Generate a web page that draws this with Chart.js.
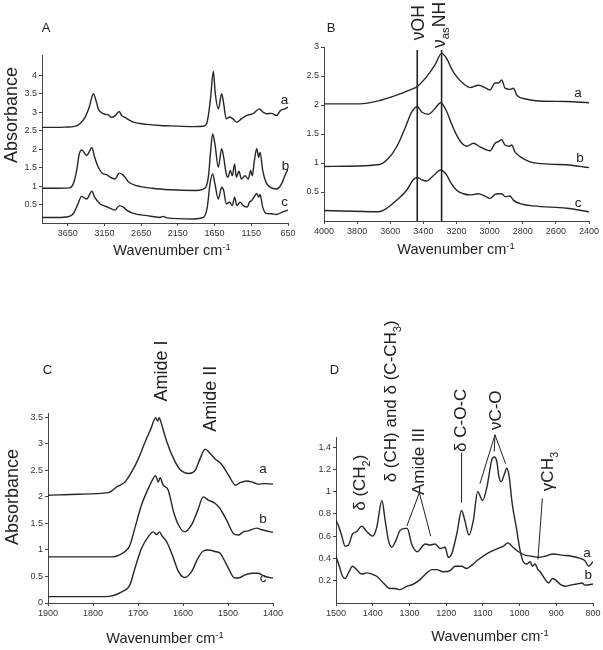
<!DOCTYPE html>
<html>
<head>
<meta charset="utf-8">
<script src="https://cdn.jsdelivr.net/npm/chart.js@4.4.1/dist/chart.umd.min.js"></script>
<style>
  body { margin: 0; background: #fff; }
  #wrap { position: relative; width: 603px; height: 650px; }
  canvas { position: absolute; }
</style>
</head>
<body>
<div id="wrap">
  <canvas id="chartA" width="301" height="300" style="left:0;top:0"></canvas>
  <canvas id="chartB" width="302" height="300" style="left:301px;top:0"></canvas>
  <canvas id="chartC" width="301" height="350" style="left:0;top:300px"></canvas>
  <canvas id="chartD" width="302" height="350" style="left:301px;top:300px"></canvas>
</div>
<script>
// ---- panel A: full range spectra ----
const A_a_wn = [4000, 3800, 3650, 3574, 3483, 3414, 3356, 3301, 3265, 3233, 3165, 3097, 3052, 3007, 2948, 2916, 2870, 2838, 2757, 2574, 2393, 2257, 1940, 1800, 1760, 1735, 1703, 1667, 1640, 1599, 1553, 1526, 1491, 1446, 1400, 1345, 1285, 1217, 1126, 1042, 988, 943, 874, 806, 751, 693, 650];
const A_a_abs = [2.59, 2.59, 2.60, 2.61, 2.69, 2.86, 3.14, 3.50, 3.32, 3.09, 2.96, 2.93, 2.86, 2.90, 3.02, 2.91, 2.86, 2.82, 2.73, 2.67, 2.64, 2.63, 2.61, 2.62, 2.68, 2.91, 3.41, 4.11, 3.50, 3.09, 3.50, 3.23, 2.82, 2.87, 2.82, 2.73, 2.82, 2.91, 2.96, 3.09, 3.00, 2.96, 2.97, 2.91, 3.05, 3.09, 3.14];
const A_b_wn = [4000, 3800, 3624, 3574, 3528, 3492, 3460, 3392, 3320, 3283, 3233, 3165, 3119, 3074, 3007, 2948, 2902, 2870, 2825, 2711, 2500, 2257, 1940, 1803, 1735, 1703, 1676, 1645, 1599, 1553, 1526, 1491, 1468, 1436, 1409, 1377, 1354, 1318, 1285, 1236, 1191, 1158, 1136, 1108, 1076, 1049, 1031, 994, 949, 895, 806, 738, 693, 650];
const A_b_abs = [0.94, 0.94, 0.95, 1.06, 1.42, 1.87, 1.98, 1.83, 2.04, 1.78, 1.51, 1.33, 1.31, 1.24, 1.19, 1.35, 1.31, 1.24, 1.12, 1.01, 0.94, 0.90, 0.88, 0.92, 1.24, 1.96, 2.41, 2.14, 1.51, 2.01, 1.78, 1.33, 1.24, 1.42, 1.28, 1.60, 1.24, 1.40, 1.19, 1.28, 1.19, 1.42, 1.28, 1.69, 2.01, 1.78, 1.92, 1.42, 1.10, 0.97, 0.92, 1.06, 1.28, 1.47];
const A_c_wn = [4000, 3800, 3642, 3574, 3519, 3460, 3392, 3320, 3283, 3210, 3119, 3052, 3007, 2948, 2893, 2848, 2757, 2574, 2393, 2350, 2300, 1940, 1803, 1749, 1712, 1676, 1645, 1599, 1553, 1526, 1491, 1446, 1409, 1377, 1345, 1304, 1259, 1204, 1177, 1145, 1113, 1076, 1049, 1031, 994, 949, 874, 806, 738, 650];
const A_c_abs = [0.15, 0.15, 0.17, 0.25, 0.47, 0.72, 0.65, 0.86, 0.70, 0.52, 0.44, 0.38, 0.35, 0.47, 0.43, 0.35, 0.26, 0.20, 0.15, 0.18, 0.14, 0.11, 0.15, 0.43, 1.06, 1.33, 1.06, 0.65, 0.97, 0.88, 0.52, 0.56, 0.47, 0.70, 0.47, 0.56, 0.47, 0.43, 0.56, 0.61, 0.70, 0.80, 0.70, 0.77, 0.43, 0.26, 0.25, 0.23, 0.29, 0.35];
const A_xticks = [3650, 3150, 2650, 2150, 1650, 1150, 650];
const A_yticks = [0.5, 1, 1.5, 2, 2.5, 3, 3.5, 4];

// ---- panel B: 4000-2400 region ----
const B_a_wn = [4000, 3783, 3672, 3561, 3481, 3437, 3380, 3330, 3290, 3259, 3229, 3199, 3159, 3118, 3068, 3028, 2998, 2967, 2947, 2927, 2907, 2877, 2857, 2836, 2776, 2696, 2535, 2400];
const B_a_abs = [2.02, 2.02, 2.07, 2.17, 2.26, 2.32, 2.49, 2.69, 2.89, 2.80, 2.62, 2.49, 2.37, 2.30, 2.34, 2.30, 2.26, 2.38, 2.38, 2.43, 2.29, 2.27, 2.29, 2.17, 2.10, 2.07, 2.06, 2.04];
const B_b_wn = [4000, 3672, 3621, 3561, 3511, 3470, 3437, 3410, 3370, 3330, 3296, 3263, 3229, 3199, 3168, 3138, 3098, 3058, 2998, 2967, 2947, 2927, 2907, 2877, 2867, 2847, 2816, 2756, 2635, 2535, 2400];
const B_b_abs = [0.94, 0.97, 1.05, 1.28, 1.60, 1.88, 1.97, 1.88, 1.84, 1.94, 2.04, 1.91, 1.67, 1.48, 1.34, 1.29, 1.34, 1.28, 1.21, 1.34, 1.37, 1.40, 1.31, 1.29, 1.31, 1.19, 1.11, 1.02, 0.98, 0.97, 0.92];
const B_c_wn = [4000, 3672, 3621, 3561, 3501, 3461, 3437, 3410, 3380, 3340, 3296, 3259, 3235, 3199, 3159, 3118, 3068, 3028, 2998, 2967, 2947, 2927, 2907, 2877, 2857, 2816, 2736, 2535, 2400];
const B_c_abs = [0.18, 0.16, 0.22, 0.36, 0.53, 0.71, 0.75, 0.71, 0.69, 0.78, 0.88, 0.79, 0.66, 0.53, 0.47, 0.45, 0.47, 0.43, 0.39, 0.46, 0.47, 0.47, 0.42, 0.43, 0.36, 0.30, 0.26, 0.22, 0.16];
const B_xticks = [4000, 3800, 3600, 3400, 3200, 3000, 2800, 2600, 2400];
const B_yticks = [0.5, 1, 1.5, 2, 2.5, 3];
const B_marks = [3437, 3290];   // vOH, vasNH

// ---- panel C: amide region ----
const C_a_wn = [1900, 1833, 1766, 1747, 1729, 1714, 1699, 1684, 1671, 1661, 1656, 1653, 1649, 1646, 1636, 1621, 1607, 1587, 1573, 1562, 1551, 1540, 1529, 1514, 1499, 1483, 1473, 1458, 1444, 1433, 1418, 1400];
const C_a_abs = [2.03, 2.05, 2.08, 2.19, 2.28, 2.47, 2.72, 3.04, 3.29, 3.49, 3.43, 3.49, 3.41, 3.32, 3.04, 2.72, 2.52, 2.44, 2.50, 2.72, 2.90, 2.82, 2.72, 2.61, 2.41, 2.22, 2.27, 2.30, 2.27, 2.24, 2.25, 2.24];
const C_b_wn = [1900, 1758, 1729, 1718, 1707, 1692, 1677, 1666, 1661, 1655, 1651, 1644, 1633, 1621, 1610, 1597, 1581, 1567, 1555, 1544, 1529, 1518, 1503, 1488, 1477, 1466, 1455, 1436, 1425, 1400];
const C_b_abs = [0.87, 0.87, 0.97, 1.09, 1.41, 1.85, 2.16, 2.35, 2.40, 2.28, 2.36, 2.22, 2.13, 1.72, 1.47, 1.34, 1.47, 1.75, 2.00, 1.94, 1.88, 1.78, 1.56, 1.31, 1.28, 1.34, 1.36, 1.41, 1.38, 1.33];
const C_c_wn = [1900, 1773, 1736, 1718, 1707, 1692, 1677, 1666, 1659, 1652, 1647, 1636, 1621, 1610, 1596, 1581, 1567, 1555, 1544, 1529, 1518, 1503, 1485, 1473, 1462, 1447, 1433, 1418, 1400];
const C_c_abs = [0.12, 0.12, 0.21, 0.34, 0.65, 1.03, 1.25, 1.34, 1.29, 1.34, 1.27, 1.15, 0.84, 0.59, 0.48, 0.59, 0.84, 0.98, 1.00, 0.97, 0.94, 0.72, 0.47, 0.48, 0.53, 0.56, 0.56, 0.50, 0.47];
const C_xticks = [1900, 1800, 1700, 1600, 1500, 1400];
const C_yticks = [0, 0.5, 1, 1.5, 2, 2.5, 3, 3.5];

// ---- panel D: fingerprint region ----
const D_a_wn = [1500, 1491, 1482, 1475, 1466, 1455, 1444, 1430, 1416, 1403, 1389, 1371, 1353, 1339, 1326, 1307, 1289, 1271, 1253, 1239, 1226, 1208, 1189, 1176, 1158, 1144, 1130, 1112, 1085, 1058, 1044, 1032, 1021, 1003, 985, 967, 949, 930, 908, 885, 858, 835, 822, 812, 800];
const D_a_abs = [0.42, 0.33, 0.24, 0.22, 0.27, 0.33, 0.30, 0.26, 0.27, 0.26, 0.24, 0.18, 0.13, 0.13, 0.12, 0.15, 0.17, 0.21, 0.27, 0.30, 0.30, 0.28, 0.29, 0.33, 0.33, 0.31, 0.34, 0.39, 0.45, 0.49, 0.51, 0.54, 0.51, 0.46, 0.43, 0.42, 0.41, 0.42, 0.44, 0.43, 0.42, 0.40, 0.38, 0.33, 0.37];
const D_b_wn = [1500, 1494, 1485, 1475, 1466, 1455, 1444, 1430, 1416, 1400, 1389, 1375, 1366, 1357, 1348, 1337, 1326, 1312, 1306, 1294, 1278, 1267, 1257, 1244, 1230, 1217, 1203, 1194, 1185, 1171, 1158, 1149, 1138, 1126, 1114, 1101, 1089, 1076, 1069, 1062, 1056, 1050, 1041, 1035, 1029, 1020, 1008, 999, 990, 981, 971, 965, 958, 950, 944, 930, 921, 910, 903, 890, 876, 862, 844, 830, 822, 800];
const D_b_abs = [0.74, 0.70, 0.61, 0.51, 0.52, 0.62, 0.64, 0.69, 0.64, 0.60, 0.68, 0.92, 0.74, 0.56, 0.50, 0.56, 0.65, 0.67, 0.67, 0.53, 0.46, 0.50, 0.53, 0.52, 0.53, 0.49, 0.50, 0.41, 0.44, 0.62, 0.83, 0.74, 0.61, 0.74, 1.00, 0.92, 1.04, 1.28, 1.31, 1.27, 1.13, 1.09, 1.16, 1.21, 1.15, 0.89, 0.66, 0.48, 0.37, 0.35, 0.37, 0.33, 0.35, 0.30, 0.28, 0.21, 0.18, 0.22, 0.21, 0.17, 0.15, 0.16, 0.17, 0.18, 0.16, 0.17];
const D_xticks = [1500, 1400, 1300, 1200, 1100, 1000, 900, 800];
const D_yticks = [0.2, 0.4, 0.6, 0.8, 1, 1.2, 1.4];

const FONT = "'Liberation Sans', Arial, sans-serif";
const INK = "#262626";
const AXIS = "#444";

function zip(wn, abs) {
  return wn.map((w, i) => ({ x: w, y: abs[i] }));
}

// text made of parts, some of them sub- or superscript
function drawRich(ctx, segs, cx, cy, size, rot) {
  const parts = segs.map(s => {
    const sz = (s.sub || s.sup) ? size * 0.65 : size;
    ctx.font = sz + "px " + FONT;
    return { t: s.t, sz: sz, w: ctx.measureText(s.t).width, dy: s.sub ? size * 0.28 : s.sup ? -size * 0.38 : 0 };
  });
  const total = parts.reduce((a, p) => a + p.w, 0);
  ctx.save();
  ctx.translate(cx, cy);
  if (rot) ctx.rotate(-Math.PI / 2);
  ctx.textBaseline = "alphabetic";
  ctx.textAlign = "left";
  let x = -total / 2;
  for (const p of parts) {
    ctx.font = p.sz + "px " + FONT;
    ctx.fillText(p.t, x, size * 0.36 + p.dy);
    x += p.w;
  }
  ctx.restore();
}

const decor = {
  id: "decor",
  afterDraw(chart, args, opts) {
    const ctx = chart.ctx;
    const xs = chart.scales.x, ys = chart.scales.y;
    ctx.save();
    ctx.fillStyle = "#222";
    ctx.strokeStyle = "#222";
    for (const l of opts.lines || []) {
      ctx.lineWidth = l.w || 1;
      ctx.beginPath();
      ctx.moveTo(xs.getPixelForValue(l.x1), ys.getPixelForValue(l.y1));
      ctx.lineTo(xs.getPixelForValue(l.x2), ys.getPixelForValue(l.y2));
      ctx.stroke();
    }
    for (const t of opts.labels || []) {
      const px = t.px ? t.px[0] : xs.getPixelForValue(t.x);
      const py = t.px ? t.px[1] : ys.getPixelForValue(t.y);
      drawRich(ctx, t.segs, px, py, t.size, t.rot);
    }
    ctx.restore();
  }
};

const wavenumberTitle = [{ t: "Wavenumber cm" }, { t: "-1", sup: true }];

function makePanel(id, cfg) {
  const lineSet = cfg.series.map(s => ({
    data: zip(s[0], s[1]),
    borderColor: INK,
    borderWidth: 1.4,
    pointRadius: 0,
    fill: false,
    cubicInterpolationMode: "monotone"
  }));
  return new Chart(document.getElementById(id), {
    type: "line",
    data: { datasets: lineSet },
    plugins: [decor],
    options: {
      responsive: false,
      animation: false,
      parsing: false,
      layout: { padding: cfg.pad },
      plugins: {
        legend: { display: false },
        tooltip: { enabled: false },
        decor: { lines: cfg.lines || [], labels: cfg.labels || [] }
      },
      scales: {
        x: {
          type: "linear",
          reverse: true,
          min: cfg.xmin,
          max: cfg.xmax,
          afterBuildTicks: ax => { ax.ticks = cfg.xticks.map(v => ({ value: v })); },
          afterFit: ax => { ax.height = 20; },
          grid: { display: true, drawOnChartArea: false, drawTicks: true, tickLength: 3, color: AXIS },
          border: { display: true, color: AXIS, width: 1 },
          ticks: { autoSkip: false, maxRotation: 0, padding: 2, color: "#333", font: { family: FONT, size: 9 }, callback: v => String(v) }
        },
        y: {
          type: "linear",
          min: 0,
          max: cfg.ymax,
          afterBuildTicks: ax => { ax.ticks = cfg.yticks.map(v => ({ value: v })); },
          afterFit: ax => { ax.width = cfg.yw; },
          grid: { display: true, drawOnChartArea: false, drawTicks: true, tickLength: 3, color: AXIS },
          border: { display: true, color: AXIS, width: 1 },
          ticks: { padding: 2, color: "#333", font: { family: FONT, size: 9 }, callback: v => String(v) }
        }
      }
    }
  });
}

window.addEventListener("load", () => {
  makePanel("chartA", {
    pad: { left: 12, right: 13, top: 55, bottom: 57 },
    yw: 30, xmin: 650, xmax: 4000, ymax: 4.55,
    xticks: A_xticks, yticks: A_yticks,
    series: [[A_a_wn, A_a_abs], [A_b_wn, A_b_abs], [A_c_wn, A_c_abs]],
    labels: [
      { px: [46, 27.5], segs: [{ t: "A" }], size: 13 },
      { px: [11, 115], segs: [{ t: "Absorbance" }], size: 18, rot: true },
      { px: [172, 250], segs: wavenumberTitle, size: 14.5 },
      { x: 697, y: 3.36, segs: [{ t: "a" }], size: 13.5 },
      { x: 684, y: 1.58, segs: [{ t: "b" }], size: 13.5 },
      { x: 697, y: 0.58, segs: [{ t: "c" }], size: 13.5 }
    ]
  });

  makePanel("chartB", {
    pad: { left: 3, right: 14, top: 47, bottom: 59 },
    yw: 20, xmin: 2400, xmax: 4000, ymax: 3,
    xticks: B_xticks, yticks: B_yticks,
    series: [[B_a_wn, B_a_abs], [B_b_wn, B_b_abs], [B_c_wn, B_c_abs]],
    lines: B_marks.map(w => ({ x1: w, y1: 0, x2: w, y2: 2.95, w: 1.6 })),
    labels: [
      { px: [30, 27.5], segs: [{ t: "B" }], size: 13 },
      { px: [155, 249], segs: wavenumberTitle, size: 14.5 },
      { x: 3432, y: 3.42, segs: [{ t: "νOH" }], size: 17.5, rot: true },
      { x: 3310, y: 3.38, segs: [{ t: "ν" }, { t: "as", sub: true }, { t: "NH" }], size: 17.5, rot: true },
      { x: 2466, y: 2.22, segs: [{ t: "a" }], size: 13.5 },
      { x: 2454, y: 1.10, segs: [{ t: "b" }], size: 13.5 },
      { x: 2466, y: 0.33, segs: [{ t: "c" }], size: 13.5 }
    ]
  });

  makePanel("chartC", {
    pad: { left: 18, right: 28, top: 113, bottom: 27 },
    yw: 30, xmin: 1400, xmax: 1900, ymax: 3.58,
    xticks: C_xticks, yticks: C_yticks,
    series: [[C_a_wn, C_a_abs], [C_b_wn, C_b_abs], [C_c_wn, C_c_abs]],
    labels: [
      { px: [47.5, 69.5], segs: [{ t: "C" }], size: 13 },
      { px: [12, 197], segs: [{ t: "Absorbance" }], size: 18, rot: true },
      { px: [165, 338], segs: wavenumberTitle, size: 14.5 },
      { x: 1651, y: 4.37, segs: [{ t: "Amide I" }], size: 18, rot: true },
      { x: 1540, y: 3.85, segs: [{ t: "Amide II" }], size: 18, rot: true },
      { x: 1422, y: 2.54, segs: [{ t: "a" }], size: 13.5 },
      { x: 1422, y: 1.60, segs: [{ t: "b" }], size: 13.5 },
      { x: 1422, y: 0.49, segs: [{ t: "c" }], size: 13.5 }
    ]
  });

  makePanel("chartD", {
    pad: { left: 5, right: 10, top: 137, bottom: 27 },
    yw: 30, xmin: 800, xmax: 1500, ymax: 1.49,
    xticks: D_xticks, yticks: D_yticks,
    series: [[D_a_wn, D_a_abs], [D_b_wn, D_b_abs]],
    lines: [
      { x1: 1273, y1: 0.99, x2: 1307, y2: 0.69 },
      { x1: 1273, y1: 0.99, x2: 1242, y2: 0.60 },
      { x1: 1158, y1: 1.35, x2: 1158, y2: 0.90 },
      { x1: 1067, y1: 1.51, x2: 1108, y2: 1.07 },
      { x1: 1067, y1: 1.51, x2: 1069, y2: 1.36 },
      { x1: 1067, y1: 1.51, x2: 1038, y2: 1.25 },
      { x1: 938, y1: 0.94, x2: 950, y2: 0.39 }
    ],
    labels: [
      { px: [33.5, 69.5], segs: [{ t: "D" }], size: 13 },
      { px: [189, 336], segs: wavenumberTitle, size: 14.5 },
      { x: 1437, y: 1.08, segs: [{ t: "δ (CH" }, { t: "2", sub: true }, { t: ")" }], size: 17, rot: true },
      { x: 1353, y: 1.81, segs: [{ t: "δ (CH) and δ (C-CH" }, { t: "3", sub: true }, { t: ")" }], size: 17, rot: true },
      { x: 1278, y: 1.27, segs: [{ t: "Amide III" }], size: 17, rot: true },
      { x: 1162, y: 1.64, segs: [{ t: "δ C-O-C" }], size: 17, rot: true },
      { x: 1067, y: 1.73, segs: [{ t: "νC-O" }], size: 17, rot: true },
      { x: 926, y: 1.18, segs: [{ t: "γCH" }, { t: "3", sub: true }], size: 17, rot: true },
      { x: 816, y: 0.46, segs: [{ t: "a" }], size: 13.5 },
      { x: 813, y: 0.26, segs: [{ t: "b" }], size: 13.5 }
    ]
  });
});
</script>
</body>
</html>
